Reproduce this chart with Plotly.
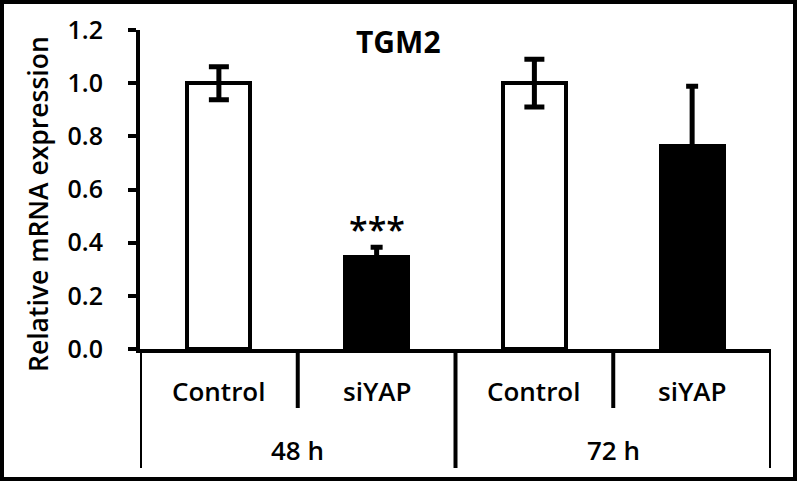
import plotly.graph_objects as go

# ---- data ----
groups = ["48 h", "72 h"]
conditions = ["Control", "siYAP", "Control", "siYAP"]
control_values = [1.0, 1.0]
control_errors = [0.062, 0.09]
siyap_values = [0.345, 0.763]
siyap_errors = [0.038, 0.225]
y_ticks = [0.0, 0.2, 0.4, 0.6, 0.8, 1.0, 1.2]
title_text = "TGM2"
y_title = "Relative mRNA expression"
sig_label = "***"

# ---- layout constants ----
W, H = 797, 481
L, R, T, B = 140, 26, 30, 132
PW, PH = W - L - R, H - T - B
FONT = "Open Sans"


def px_x(px):
    return (px - L) / PW


def px_y(py):
    return (H - B - py) / PH


control_pos = [0, 2]
siyap_pos = [1, 3]

fig = go.Figure()
fig.add_trace(go.Bar(
    x=control_pos, y=control_values, width=0.4,
    marker=dict(color="white", line=dict(color="black", width=4)),
    error_y=dict(type="data", array=control_errors, color="black",
                 thickness=5, width=10),
    showlegend=False, hoverinfo="skip",
))
fig.add_trace(go.Bar(
    x=siyap_pos, y=siyap_values, width=0.4,
    marker=dict(color="black", line=dict(color="black", width=4)),
    error_y=dict(type="data", array=siyap_errors, color="black",
                 thickness=5, width=6),
    showlegend=False, hoverinfo="skip",
))

shapes = []
# group / category dividers below the x axis
for xv, depth in [(-0.5, 468), (0.5, 408), (1.5, 468), (2.5, 408), (3.5, 468)]:
    shapes.append(dict(type="line", xref="x", yref="paper",
                       x0=xv, x1=xv, y0=0, y1=px_y(depth),
                       line=dict(color="black", width=4)))
# outer frame of the image
shapes.append(dict(type="rect", xref="paper", yref="paper",
                   x0=px_x(2), x1=px_x(795), y0=px_y(2), y1=px_y(479),
                   line=dict(color="black", width=4), fillcolor="rgba(0,0,0,0)"))

cat_font = dict(family=FONT, size=26, color="black", weight=600)
annotations = []
for xv, txt in zip(control_pos + siyap_pos, ["Control", "Control", "siYAP", "siYAP"]):
    annotations.append(dict(x=xv, y=px_y(391), xref="x", yref="paper",
                            text=txt, showarrow=False, yanchor="middle",
                            font=cat_font))
for i, g in enumerate(groups):
    annotations.append(dict(x=2 * i + 0.5, y=px_y(450), xref="x", yref="paper",
                            text=g, showarrow=False, yanchor="middle",
                            font=cat_font))
annotations.append(dict(x=siyap_pos[0], y=siyap_values[0] + siyap_errors[0],
                        xref="x", yref="y", text=sig_label, showarrow=False,
                        yanchor="bottom", yshift=-7,
                        font=dict(family=FONT, size=34, color="black", weight=600)))
annotations.append(dict(x=(398 - L) / (PW / 4) - 0.5, y=px_y(41.5),
                        xref="x", yref="paper", text=title_text,
                        showarrow=False, yanchor="middle",
                        font=dict(family=FONT, size=30, color="black", weight=700)))
annotations.append(dict(x=px_x(38), y=px_y(204), xref="paper", yref="paper",
                        text=y_title, textangle=-90, showarrow=False,
                        xanchor="center", yanchor="middle",
                        font=dict(family=FONT, size=26.5, color="black", weight=600)))

fig.update_layout(
    width=W, height=H,
    margin=dict(l=L, r=R, t=T, b=B, pad=0),
    plot_bgcolor="white", paper_bgcolor="white",
    bargap=0,
    shapes=shapes,
    annotations=annotations,
    xaxis=dict(range=[-0.5, 3.5], showticklabels=False, ticks="",
               showline=True, linecolor="black", linewidth=4,
               showgrid=False, zeroline=False, fixedrange=True),
    yaxis=dict(range=[0, 1.2], tickvals=y_ticks,
               ticktext=[f"{v:.1f}" for v in y_ticks],
               ticks="outside", ticklen=8, tickwidth=4, tickcolor="black",
               ticklabelstandoff=20,
               showline=True, linecolor="black", linewidth=4,
               showgrid=False, zeroline=False, fixedrange=True,
               tickfont=dict(family=FONT, size=25, color="black", weight=600)),
)

fig.write_html("out.html", config={"displayModeBar": False},
               post_script="document.body.style.margin='0';document.body.style.padding='0';")
